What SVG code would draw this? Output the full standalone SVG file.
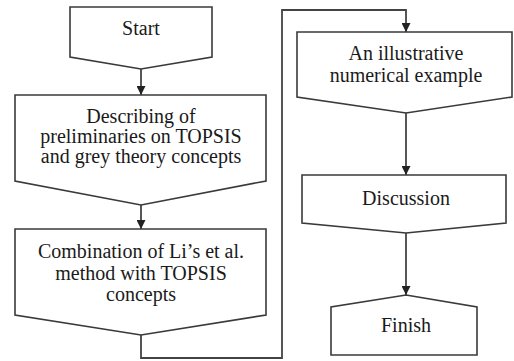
<svg xmlns="http://www.w3.org/2000/svg" width="514" height="361" viewBox="0 0 514 361">
<defs>
<style>
.box{fill:#fff;stroke:#3a3a3a;stroke-width:1.6}
.con{fill:none;stroke:#444;stroke-width:1.8}
</style>
<marker id="ah" viewBox="0 0 10 10" refX="10" refY="5" markerWidth="5" markerHeight="5" orient="auto" markerUnits="strokeWidth">
<path d="M0,0 L10,5 L0,10 Z" fill="#222"/>
</marker>
</defs>
<rect width="514" height="361" fill="#fff"/>
<g id="connectors">
<path class="con" d="M141,69 V95" marker-end="url(#ah)"/>
<path class="con" d="M141,205 V229" marker-end="url(#ah)"/>
<path class="con" d="M141,335 V358 H282 V10 H406 V32" marker-end="url(#ah)"/>
<path class="con" d="M406,113 V175" marker-end="url(#ah)"/>
<path class="con" d="M406,233 V295" marker-end="url(#ah)"/>
</g>
<g font-family="Liberation Serif, Times New Roman, serif" font-size="20" fill="#1a1a1a" text-anchor="middle">
<g id="start">
<path class="box" d="M70,7 H212 V57 L141,69 L70,57 Z"/>
<text x="141" y="35">Start</text>
</g>
<g id="describing">
<path class="box" d="M15,95 H266 V181 L141,205 L15,181 Z"/>
<text x="141" y="123">Describing of</text>
<text x="141" y="143">preliminaries on TOPSIS</text>
<text x="141" y="163">and grey theory concepts</text>
</g>
<g id="combination">
<path class="box" d="M15,229 H266 V315 L141,335 L15,315 Z"/>
<text x="141" y="258">Combination of Li’s et al.</text>
<text x="141" y="280">method with TOPSIS</text>
<text x="141" y="301">concepts</text>
</g>
<g id="example">
<path class="box" d="M297,32 H512 V97 L406,113 L297,97 Z"/>
<text x="406" y="60">An illustrative</text>
<text x="406" y="82">numerical example</text>
</g>
<g id="discussion">
<path class="box" d="M302,175 H506 V223 L406,233 L302,223 Z"/>
<text x="406" y="205">Discussion</text>
</g>
<g id="finish">
<path class="box" d="M406,295 L477,307 V355 H331 V307 Z"/>
<text x="406" y="332">Finish</text>
</g>
</g>
</svg>
